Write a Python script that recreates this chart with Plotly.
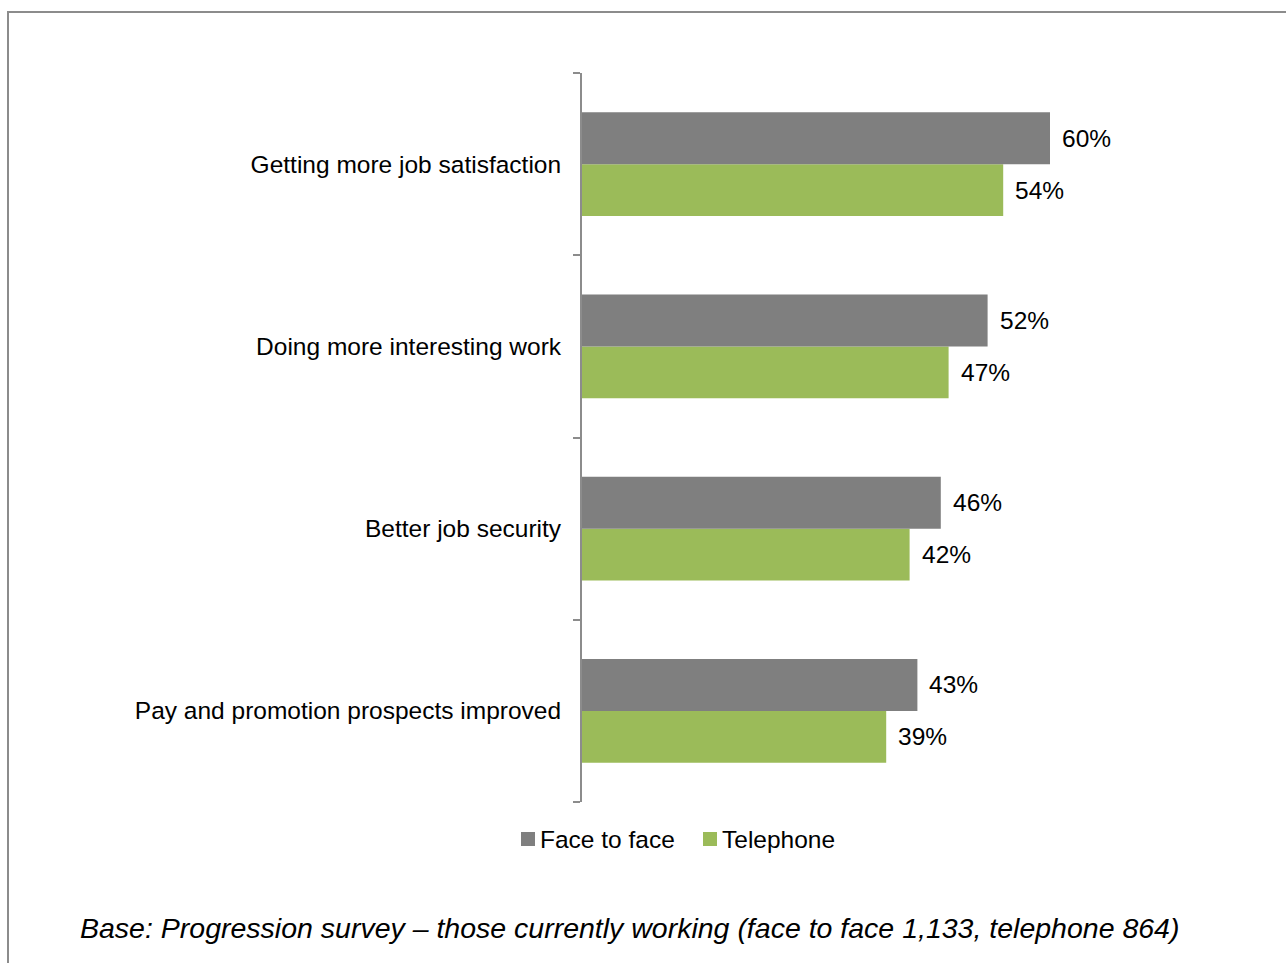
import plotly.graph_objects as go

# Survey categories, listed top to bottom
categories = [
    "Getting more job satisfaction",
    "Doing more interesting work",
    "Better job security",
    "Pay and promotion prospects improved",
]
face_to_face = [60, 52, 46, 43]
telephone = [54, 47, 42, 39]
series_names = ["Face to face", "Telephone"]

GRAY = "#7f7f7f"
GREEN = "#9bbb59"
FONT = "Liberation Sans, Arial, sans-serif"
LABEL_SIZE = 24.5

W, H = 1286, 963
ML, MT, MR, MB = 582, 73, 46, 161
PW = W - ML - MR
PH = H - MT - MB
PX_PER_UNIT = 7.8
XMAX = PW / PX_PER_UNIT


def px_x(px):
    return (px - ML) / PW


def px_y(py):
    return (H - MB - py) / PH


fig = go.Figure()
# Telephone first so it sits below Face to face within each group
fig.add_trace(go.Bar(
    y=categories, x=telephone, name=series_names[1], orientation="h",
    marker=dict(color=GREEN, line=dict(width=0)), showlegend=False,
))
fig.add_trace(go.Bar(
    y=categories, x=face_to_face, name=series_names[0], orientation="h",
    marker=dict(color=GRAY, line=dict(width=0)), showlegend=False,
))

# Value labels at the end of each bar
for cat, v in zip(categories, face_to_face):
    fig.add_annotation(x=v, y=cat, text=f"{v}%", showarrow=False,
                       xanchor="left", yanchor="middle", xshift=10, yshift=26,
                       font=dict(family=FONT, size=LABEL_SIZE, color="#000000"))
for cat, v in zip(categories, telephone):
    fig.add_annotation(x=v, y=cat, text=f"{v}%", showarrow=False,
                       xanchor="left", yanchor="middle", xshift=10, yshift=-26,
                       font=dict(family=FONT, size=LABEL_SIZE, color="#000000"))

# Legend: square swatch followed by series name
legend_items = [(series_names[0], GRAY, 521, 538), (series_names[1], GREEN, 703, 720)]
for name, color, sx, tx in legend_items:
    fig.add_shape(type="rect", xref="paper", yref="paper",
                  x0=px_x(sx), x1=px_x(sx + 14), y0=px_y(846), y1=px_y(832),
                  line=dict(width=0), fillcolor=color)
    fig.add_annotation(xref="paper", yref="paper", x=px_x(tx), y=px_y(840),
                       text=name, showarrow=False, xanchor="left", yanchor="middle",
                       font=dict(family=FONT, size=LABEL_SIZE, color="#000000"))

# Footnote
fig.add_annotation(
    xref="paper", yref="paper",
    x=px_x(629), y=px_y(928),
    text="<i>Base: Progression survey – those currently working (face to face 1,133, telephone 864)</i>",
    showarrow=False, xanchor="center", yanchor="middle",
    font=dict(family=FONT, size=28.5, color="#000000"),
)

# Outer frame
fig.add_shape(
    type="rect", xref="paper", yref="paper",
    x0=px_x(8), x1=px_x(1310), y0=px_y(990), y1=px_y(12),
    line=dict(color="#8c8c8c", width=2), fillcolor="rgba(0,0,0,0)", layer="below",
)

fig.update_layout(
    width=W, height=H,
    margin=dict(l=ML, r=MR, t=MT, b=MB, autoexpand=False),
    paper_bgcolor="white", plot_bgcolor="white",
    barmode="group", bargap=0.43, bargroupgap=0,
    font=dict(family=FONT, size=LABEL_SIZE, color="#000000"),
    showlegend=False,
    xaxis=dict(range=[0, XMAX], visible=False, fixedrange=True),
    yaxis=dict(
        categoryorder="array", categoryarray=categories[::-1],
        showline=True, linecolor="#8c8c8c", linewidth=2,
        ticks="outside", ticklen=7, tickcolor="#8c8c8c", tickwidth=2,
        tickson="boundaries", showgrid=False, zeroline=False,
        ticklabelstandoff=14,
        tickfont=dict(family=FONT, size=LABEL_SIZE, color="#000000"),
    ),
)

fig.write_html("out.html")
